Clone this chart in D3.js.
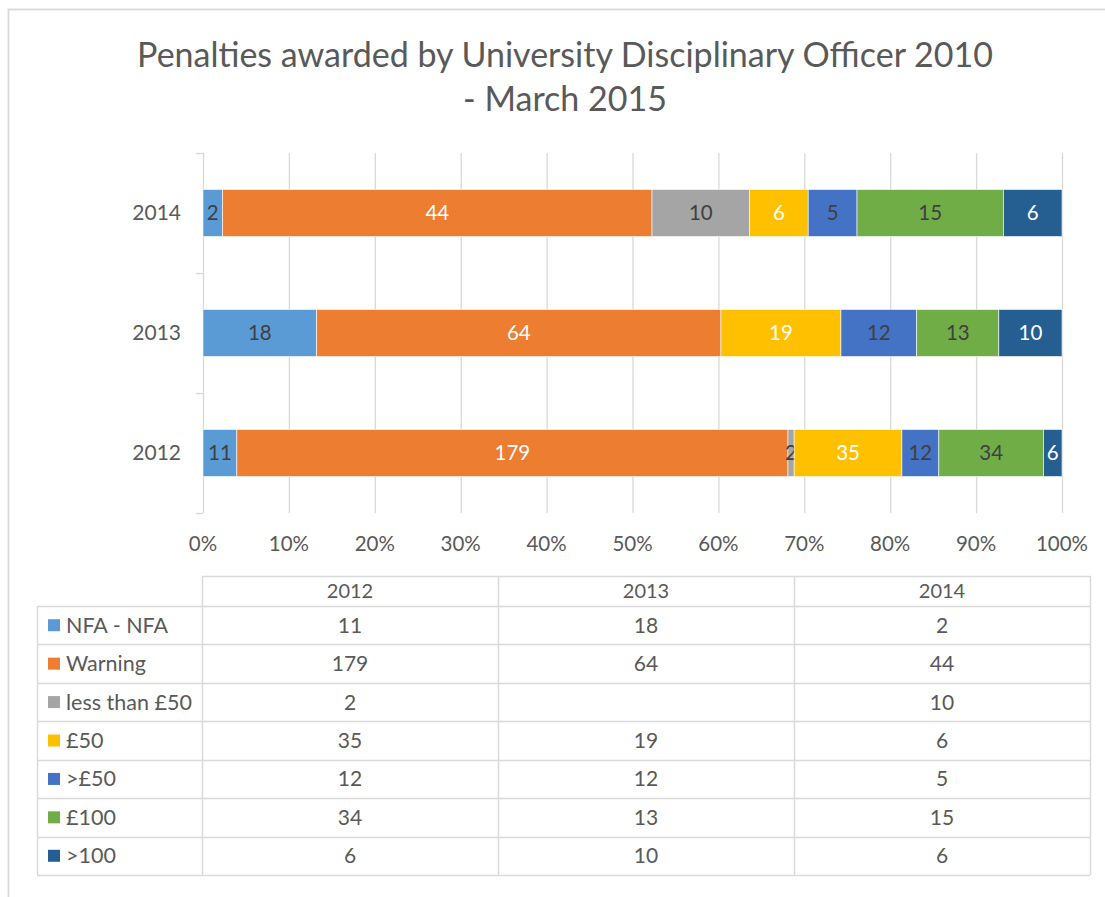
<!DOCTYPE html>
<html><head><meta charset="utf-8">
<script src="https://cdn.jsdelivr.net/npm/d3@7"></script>
<style>body{margin:0;background:#fff;} text{font-family:Lato,'Open Sans',sans-serif;}</style>
</head><body><svg id="c" width="1105" height="897"></svg>
<script>
const years = ["2012", "2013", "2014"];
const seriesNames = ["NFA - NFA", "Warning", "less than £50", "£50", ">£50", "£100", ">100"];
const nfa = [11, 18, 2];
const warning = [179, 64, 44];
const lessThan50 = [2, null, 10];
const fifty = [35, 19, 6];
const over50 = [12, 12, 5];
const hundred = [34, 13, 15];
const over100 = [6, 10, 6];
const xTicks = [0, 0.1, 0.2, 0.3, 0.4, 0.5, 0.6, 0.7, 0.8, 0.9, 1];
const titleLines = ["Penalties awarded by University Disciplinary Officer 2010", "- March 2015"];
const colors = ["#5B9BD5", "#ED7D31", "#A5A5A5", "#FFC000", "#4472C4", "#70AD47", "#255E91"];
const labelColors = ["#404040", "#ffffff", "#404040", "#ffffff", "#404040", "#404040", "#ffffff"];

const seriesValues = [nfa, warning, lessThan50, fifty, over50, hundred, over100];
const rows = years.map((y, i) => {
  const r = {year: y};
  seriesNames.forEach((s, k) => r[s] = seriesValues[k][i] || 0);
  return r;
});

const svg = d3.select("#c");
const grid = "#d9d9d9", txt = "#595959";

// outer chart border
svg.append("rect").attr("x", 8.5).attr("y", 9.5).attr("width", 1120).attr("height", 900)
  .attr("fill", "none").attr("stroke", grid).attr("stroke-width", 1.8);

// title
svg.append("g").selectAll("text").data(titleLines).join("text")
  .attr("x", 565).attr("y", (d, i) => 67 + i * 44)
  .attr("text-anchor", "middle").attr("fill", txt).attr("font-size", 34).text(d => d);

const x = d3.scaleLinear().domain([0, 1]).range([203, 1062]);
const y = d3.scaleBand().domain(years.slice().reverse()).range([153, 513]).paddingInner(0.608).paddingOuter(0.304);

// gridlines
svg.append("g").selectAll("line").data(xTicks).join("line")
  .attr("x1", d => x(d) + 0.5).attr("x2", d => x(d) + 0.5).attr("y1", 153).attr("y2", 513)
  .attr("stroke", grid).attr("stroke-width", 1.3);

// left category axis ticks
svg.append("g").selectAll("line").data(y.domain().map(d => y(d) - y.step() * y.paddingInner() / 2).concat([513]))
  .join("line").attr("x1", 196).attr("x2", 203).attr("y1", d => Math.round(d) + 0.5).attr("y2", d => Math.round(d) + 0.5)
  .attr("stroke", grid).attr("stroke-width", 1.3);

// x tick labels
svg.append("g").selectAll("text").data(xTicks).join("text")
  .attr("x", d => x(d)).attr("y", 551).attr("text-anchor", "middle")
  .attr("fill", txt).attr("font-size", 20.5).text(d3.format(".0%"));

// y labels
svg.append("g").selectAll("text").data(years).join("text")
  .attr("x", 181).attr("y", d => y(d) + y.bandwidth() / 2 + 7).attr("text-anchor", "end")
  .attr("fill", txt).attr("font-size", 21).text(d => d);

// stacked bars
const stack = d3.stack().keys(seriesNames).offset(d3.stackOffsetExpand);
const stacked = stack(rows);
const layers = svg.append("g").selectAll("g").data(stacked).join("g").attr("fill", (d, i) => colors[i]);
layers.selectAll("rect").data(d => d).join("rect")
  .attr("x", d => x(d[0])).attr("width", d => Math.max(0, x(d[1]) - x(d[0])))
  .attr("y", d => y(d.data.year)).attr("height", y.bandwidth())
  .attr("stroke", "#ffffff").attr("stroke-width", 0.6);
layers.each(function(layer, i) {
  d3.select(this).selectAll("text").data(layer.filter(d => d.data[layer.key] > 0)).join("text")
    .attr("x", d => (x(d[0]) + x(d[1])) / 2).attr("y", d => y(d.data.year) + y.bandwidth() / 2 + 7)
    .attr("text-anchor", "middle").attr("font-size", 20.5).attr("fill", labelColors[i])
    .text(d => d.data[layer.key]);
});

// data table
const tx = d3.scaleBand().domain(years).range([202, 1090]);
const headerTop = 576, headerBottom = 606, rowH = (875 - 606) / seriesNames.length;
const tg = svg.append("g");
const ty = i => headerBottom + i * rowH;
tg.append("line").attr("x1", 202).attr("x2", 1090).attr("y1", headerTop + 0.5).attr("y2", headerTop + 0.5).attr("stroke", grid).attr("stroke-width", 1.5);
tg.selectAll("line.h").data(d3.range(seriesNames.length + 1)).join("line").attr("class", "h")
  .attr("x1", 37).attr("x2", 1090).attr("y1", i => Math.round(ty(i)) + 0.5).attr("y2", i => Math.round(ty(i)) + 0.5)
  .attr("stroke", grid).attr("stroke-width", 1.5);
tg.append("line").attr("x1", 37.5).attr("x2", 37.5).attr("y1", headerBottom).attr("y2", 875).attr("stroke", grid).attr("stroke-width", 1.5);
tg.selectAll("line.v").data([202, tx("2013"), tx("2014"), 1090]).join("line").attr("class", "v")
  .attr("x1", d => Math.round(d) + 0.5).attr("x2", d => Math.round(d) + 0.5).attr("y1", headerTop).attr("y2", 875)
  .attr("stroke", grid).attr("stroke-width", 1.5);
tg.selectAll("text.hd").data(years).join("text").attr("class", "hd")
  .attr("x", d => tx(d) + tx.bandwidth() / 2).attr("y", headerTop + 22).attr("text-anchor", "middle")
  .attr("fill", txt).attr("font-size", 20).text(d => d);
seriesNames.forEach((s, k) => {
  const cy = ty(k) + rowH / 2;
  tg.append("rect").attr("x", 48).attr("y", cy - 6).attr("width", 12).attr("height", 12).attr("fill", colors[k]);
  tg.append("text").attr("x", 66).attr("y", cy + 7.5).attr("fill", txt).attr("font-size", 21.5).text(s);
  years.forEach((yr, i) => {
    const v = seriesValues[k][i];
    if (v == null) return;
    tg.append("text").attr("x", tx(yr) + tx.bandwidth() / 2).attr("y", cy + 7.5).attr("text-anchor", "middle")
      .attr("fill", txt).attr("font-size", 21).text(v);
  });
});
</script></body></html>
